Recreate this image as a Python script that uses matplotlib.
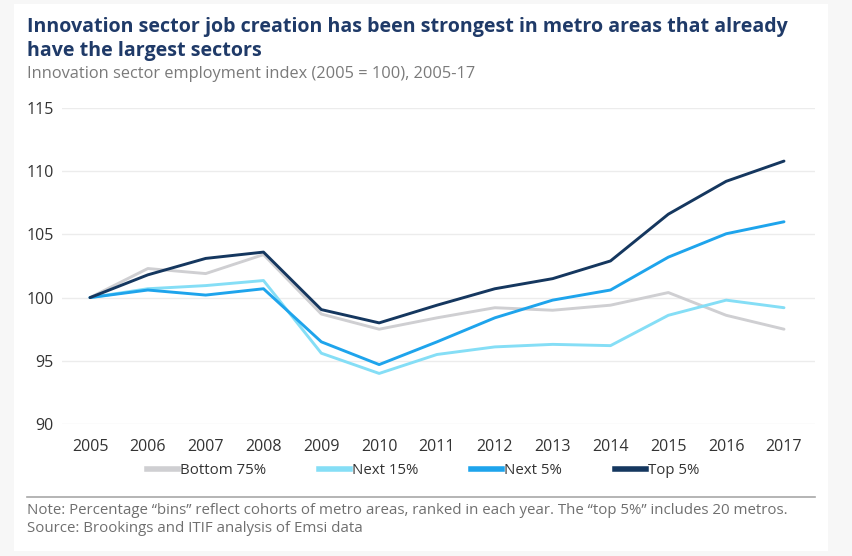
import matplotlib
matplotlib.use("Agg")
import matplotlib.pyplot as plt
from matplotlib.patches import Rectangle
from matplotlib.lines import Line2D

years = [2005, 2006, 2007, 2008, 2009, 2010, 2011, 2012, 2013, 2014, 2015, 2016, 2017]
bottom75 = [100, 102.3, 101.9, 103.4, 98.7, 97.5, 98.4, 99.2, 99.0, 99.4, 100.4, 98.6, 97.5]
next15 = [100, 100.7, 100.95, 101.35, 95.6, 94.0, 95.5, 96.1, 96.3, 96.2, 98.6, 99.8, 99.2]
next5 = [100, 100.6, 100.2, 100.7, 96.5, 94.7, 96.5, 98.4, 99.8, 100.6, 103.2, 105.05, 106.0]
top5 = [100, 101.8, 103.1, 103.6, 99.05, 98.0, 99.4, 100.7, 101.5, 102.9, 106.6, 109.2, 110.8]

series_names = ["Bottom 75%", "Next 15%", "Next 5%", "Top 5%"]
series_values = [bottom75, next15, next5, top5]
colors = ["#cfcfd2", "#85def6", "#1ea4ec", "#15375f"]
yticks = [90, 95, 100, 105, 110, 115]
xticklabels = [str(y) for y in years]

title = "Innovation sector job creation has been strongest in metro areas that already\nhave the largest sectors"
subtitle = "Innovation sector employment index (2005 = 100), 2005-17"
note = "Note: Percentage \u201cbins\u201d reflect cohorts of metro areas, ranked in each year. The \u201ctop 5%\u201d includes 20 metros."
source = "Source: Brookings and ITIF analysis of Emsi data"

W, H = 852, 556
fig = plt.figure(figsize=(W / 100, H / 100), dpi=100)
fig.patch.set_facecolor("#f7f7f7")
card = Rectangle((14 / W, 1 - 551 / H), (828 - 14) / W, (551 - 4) / H,
                 transform=fig.transFigure, facecolor="white", edgecolor="none", zorder=-10)
fig.patches.append(card)

fam = ["Open Sans", "DejaVu Sans"]

ax = fig.add_axes([62 / W, 1 - 424 / H, (815 - 62) / W, (424 - 108) / H])
ax.set_zorder(5)
ax.set_facecolor("none")
for name, vals, c in zip(series_names, series_values, colors):
    ax.plot(years, vals, color=c, lw=2.1, label=name, solid_capstyle="round",
            solid_joinstyle="round", zorder=3)

x0 = 2005 - 28 / 57.83
x1 = 2017 + 31 / 57.83
ax.set_xlim(x0, x1)
ax.set_ylim(90, 115)
ax.set_yticks(yticks)
ax.set_xticks(years)
ax.set_xticklabels(xticklabels)
ax.grid(axis="y", color="#ececec", lw=1)
ax.set_axisbelow(True)
for s in ax.spines.values():
    s.set_visible(False)
ax.tick_params(length=0, labelsize=11.5, labelcolor="#333333")
ax.tick_params(axis="x", pad=11)
ax.tick_params(axis="y", pad=6)
for lab in ax.get_xticklabels() + ax.get_yticklabels():
    lab.set_family(fam)

handles = [Line2D([0], [0], color=c, lw=4) for c in colors]
leg = fig.legend(handles, series_names, loc="center", bbox_to_anchor=(423 / W, 1 - 471 / H),
                 ncol=4, frameon=False, handlelength=2.1, handletextpad=0.12,
                 columnspacing=3.5, prop={"family": fam, "size": 10.8})
for t in leg.get_texts():
    t.set_color("#333333")

fig.text(27 / W, 1 - 39 / H, title, ha="left", va="center", fontsize=14.1,
         fontweight="bold", color="#1f3a68", family=fam, linespacing=1.25)
fig.text(27 / W, 1 - 74 / H, subtitle, ha="left", va="center", fontsize=11.8,
         color="#7a7a7a", family=fam)

fig.add_artist(Line2D([27 / W, 815 / W], [1 - 497 / H, 1 - 497 / H], color="#a8a8a8", lw=1.2,
                      transform=fig.transFigure))
fig.text(27 / W, 1 - 511 / H, note, ha="left", va="center", fontsize=10.8,
         color="#6f6f6f", family=fam)
fig.text(27 / W, 1 - 529 / H, source, ha="left", va="center", fontsize=10.8,
         color="#6f6f6f", family=fam)

fig.savefig("out.png", dpi=100, facecolor=fig.get_facecolor())
